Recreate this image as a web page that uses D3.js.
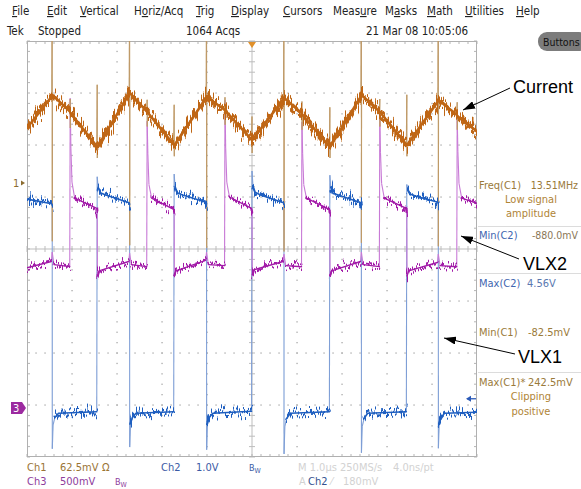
<!DOCTYPE html>
<html>
<head>
<meta charset="utf-8">
<script src="https://cdn.jsdelivr.net/npm/d3@7"></script>
<style>
  html, body { margin: 0; padding: 0; background: #fff; }
  svg { display: block; }
  .ui { font-family: "Liberation Sans Narrow", "Arial Narrow", "DejaVu Sans Condensed", sans-serif; }
  .big { font-family: "Liberation Sans", Arial, sans-serif; }
</style>
</head>
<body>
<svg id="scope" width="581" height="489"></svg>
<script>
// ---- acquisition record (time in µs) ----
// Ch1: inductor current probe, mV
const ch1Times = [0, 0.55, 0.56, 0.562, 0.565, 0.95, 0.96, 0.963, 0.967, 1.55, 1.56, 1.563, 1.567,
  2.27, 2.28, 2.282, 2.285, 2.66, 2.67, 2.673, 2.677, 3.26, 3.27, 3.273, 3.277,
  3.98, 3.99, 3.992, 3.995, 4.39, 4.40, 4.403, 4.407, 4.99, 5.00, 5.003, 5.007,
  5.70, 5.71, 5.712, 5.715, 6.10, 6.11, 6.113, 6.117, 6.72, 6.73, 6.733, 6.737,
  7.42, 7.43, 7.432, 7.435, 7.83, 7.84, 7.843, 7.847, 8.43, 8.44, 8.443, 8.447,
  9.13, 9.14, 9.142, 9.145, 9.55, 9.56, 9.563, 9.567, 10];
const ch1Values = [66, 104, 242.5, -70, 105.8, 86, 101, 66, 84, 44, 118, 30, 43.3,
  107, 242.5, -75, 108.2, 86, 100, 68, 85, 46, 94, 32, 45.7,
  102, 242.5, -78, 103.4, 88, 103, 70, 87, 52, 80, 36, 51.7,
  101, 242.5, -82.5, 102.2, 84, 98, 64, 82, 44, 91, 30, 43.3,
  104, 242.5, -72, 105.8, 86, 101, 68, 85, 46, 106, 32, 45.7,
  98, 242.5, -76, 99.8, 82, 97, 64, 80, 62];

// Ch2: VLX1 switch node, V
const ch2Times = [0, 0.55, 0.56, 0.562, 0.58, 0.62, 0.70, 1.55, 1.56, 1.58, 1.63, 1.75,
  2.27, 2.28, 2.282, 2.30, 2.34, 2.42, 3.26, 3.27, 3.29, 3.34, 3.46,
  3.98, 3.99, 3.992, 4.01, 4.05, 4.13, 4.99, 5.00, 5.02, 5.07, 5.19,
  5.70, 5.71, 5.712, 5.73, 5.77, 5.85, 6.72, 6.73, 6.75, 6.80, 6.92,
  7.42, 7.43, 7.432, 7.45, 7.49, 7.57, 8.43, 8.44, 8.46, 8.51, 8.63,
  9.13, 9.14, 9.142, 9.16, 9.20, 9.28, 10];
const ch2Values = [4.02, 3.93, 3.9, -0.78, -0.32, -0.18, -0.1, -0.07, 4.45, 4.25, 4.14, 4.1,
  3.95, 3.92, -0.75, -0.3, -0.18, -0.1, -0.07, 4.5, 4.26, 4.14, 4.1,
  3.96, 3.93, -0.8, -0.3, -0.18, -0.1, -0.06, 4.56, 4.28, 4.15, 4.1,
  3.95, 3.92, -0.88, -0.35, -0.2, -0.1, -0.07, 4.48, 4.25, 4.13, 4.1,
  3.95, 3.92, -0.86, -0.35, -0.2, -0.1, -0.07, 4.3, 4.2, 4.12, 4.08,
  3.96, 3.93, -0.77, -0.3, -0.18, -0.1, -0.08];

// Ch3: VLX2 switch node, V
const ch3Times = [0, 0.54, 0.56, 0.60, 0.95, 0.96, 0.975, 1.00, 1.06, 1.55, 1.56, 1.565, 1.60,
  2.26, 2.28, 2.32, 2.66, 2.67, 2.685, 2.71, 2.77, 3.26, 3.27, 3.275, 3.31,
  3.97, 3.99, 4.03, 4.39, 4.40, 4.415, 4.44, 4.50, 4.99, 5.00, 5.005, 5.04,
  5.69, 5.71, 5.75, 6.10, 6.11, 6.125, 6.15, 6.21, 6.72, 6.73, 6.735, 6.77,
  7.41, 7.43, 7.47, 7.83, 7.84, 7.855, 7.88, 7.94, 8.43, 8.44, 8.445, 8.48,
  9.12, 9.14, 9.18, 9.55, 9.56, 9.575, 9.60, 9.66, 10];
const ch3Values = [1.35, 1.41, 1.50, 1.38, 1.36, 2.98, 2.5, 2.17, 2.02, 1.92, 1.88, 1.27, 1.32,
  1.41, 1.49, 1.38, 1.36, 2.76, 2.45, 2.15, 2.02, 1.91, 1.88, 1.27, 1.32,
  1.42, 1.50, 1.38, 1.37, 2.96, 2.5, 2.17, 2.03, 1.92, 1.89, 1.28, 1.33,
  1.41, 1.48, 1.37, 1.36, 2.75, 2.45, 2.15, 2.02, 1.91, 1.88, 1.27, 1.32,
  1.41, 1.50, 1.38, 1.36, 2.78, 2.46, 2.16, 2.02, 1.92, 1.88, 1.27, 1.32,
  1.40, 1.48, 1.37, 1.36, 2.80, 2.47, 2.16, 2.02, 1.97];

// ---- vertical settings: scale per division and ground marker position (divisions from centre) ----
const channelScale = [62.5, 1.0, 0.5];
const channelOffset = [1.27, -3.06, -3.06];

// ---- screen text ----
const menuItems = ["File", "Edit", "Vertical", "Horiz/Acq", "Trig", "Display", "Cursors", "Measure", "Masks", "Math", "Utilities", "Help"];
const menuHotkey = [0, 0, 0, 1, 0, 0, 0, 4, 1, 0, 0, 0];
const statusItems = ["Tek", "Stopped", "1064 Acqs", "21 Mar 08 10:05:06"];
const measLabels = ["Freq(C1)", "Min(C2)", "Max(C2)", "Min(C1)", "Max(C1)*"];
const measValues = ["13.51MHz", "-880.0mV", "4.56V", "-82.5mV", "242.5mV"];

// ---- layout ----
const W = 581, H = 489;
const G = { left: 27, right: 477, top: 41, bottom: 457 };
const menuX = [12, 47, 80, 134, 196, 231, 283, 333, 385, 427, 465, 516];
const statusX = [7, 38, 186, 366];

const svg = d3.select("#scope");
const defs = svg.append("defs");

const x = d3.scaleLinear().domain([0, 10]).range([G.left, G.right]);
const div = d3.scaleLinear().domain([-4, 4]).range([G.bottom, G.top]);
const chY = channelScale.map((s, i) =>
  d3.scaleLinear().domain([(-4 - channelOffset[i]) * s, (4 - channelOffset[i]) * s]).range([G.bottom, G.top]));

// ---- graticule ----
const grat = svg.append("g");
const gridCol = "#a9a9a9";
const xMinor = d3.range(0, 10.001, 0.2);
const yMinor = d3.range(-4, 4.001, 0.2);
// dotted division lines
for (let i = 1; i < 10; i++) {
  if (i === 5) continue;
  grat.append("g").selectAll("rect").data(yMinor.slice(1, -1)).join("rect")
    .attr("x", x(i) - 0.6).attr("y", d => div(d) - 0.6).attr("width", 1.3).attr("height", 1.3).attr("fill", gridCol);
}
for (let j = -3; j <= 3; j++) {
  if (j === 0) continue;
  grat.append("g").selectAll("rect").data(xMinor.slice(1, -1)).join("rect")
    .attr("x", d => x(d) - 0.6).attr("y", div(j) - 0.6).attr("width", 1.3).attr("height", 1.3).attr("fill", gridCol);
}
// centre cross with minor ticks
grat.append("line").attr("x1", G.left).attr("x2", G.right).attr("y1", div(0)).attr("y2", div(0)).attr("stroke", "#bdbdbd");
grat.append("line").attr("y1", G.top).attr("y2", G.bottom).attr("x1", x(5)).attr("x2", x(5)).attr("stroke", "#bdbdbd");
grat.append("g").selectAll("line").data(xMinor).join("line")
  .attr("x1", d => x(d)).attr("x2", d => x(d)).attr("y1", div(0) - 3).attr("y2", div(0) + 3).attr("stroke", "#bdbdbd");
grat.append("g").selectAll("line").data(yMinor).join("line")
  .attr("y1", d => div(d)).attr("y2", d => div(d)).attr("x1", x(5) - 3).attr("x2", x(5) + 3).attr("stroke", "#bdbdbd");
// border ticks
grat.append("g").selectAll("line").data(xMinor).join("line")
  .attr("x1", d => x(d)).attr("x2", d => x(d)).attr("y1", G.top).attr("y2", G.top + 3).attr("stroke", "#b5b5b5");
grat.append("g").selectAll("line").data(xMinor).join("line")
  .attr("x1", d => x(d)).attr("x2", d => x(d)).attr("y1", G.bottom).attr("y2", G.bottom - 3).attr("stroke", "#b5b5b5");
grat.append("g").selectAll("line").data(yMinor).join("line")
  .attr("y1", d => div(d)).attr("y2", d => div(d)).attr("x1", G.left).attr("x2", G.left + 3).attr("stroke", "#b5b5b5");
grat.append("g").selectAll("line").data(yMinor).join("line")
  .attr("y1", d => div(d)).attr("y2", d => div(d)).attr("x1", G.right).attr("x2", G.right - 3).attr("stroke", "#b5b5b5");
grat.append("rect").attr("x", G.left + 0.5).attr("y", G.top + 0.5)
  .attr("width", G.right - G.left - 1).attr("height", G.bottom - G.top - 1)
  .attr("fill", "none").attr("stroke", "#b0b0b0");

// ---- trace rendering ----
defs.append("clipPath").attr("id", "screen").append("rect")
  .attr("x", G.left).attr("y", G.top).attr("width", G.right - G.left).attr("height", G.bottom - G.top);

function jitter(id, freq, scale, seed) {
  const f = defs.append("filter").attr("id", id).attr("filterUnits", "userSpaceOnUse")
    .attr("x", 0).attr("y", 0).attr("width", W).attr("height", H)
    .attr("color-interpolation-filters", "sRGB");
  f.append("feTurbulence").attr("type", "fractalNoise").attr("baseFrequency", `${freq} 0.04`)
    .attr("numOctaves", 2).attr("seed", seed).attr("result", "n");
  f.append("feColorMatrix").attr("in", "n").attr("type", "matrix")
    .attr("values", "0 0 0 0 0.5  0 1 0 0 0  0 0 0 0 0  0 0 0 0 1").attr("result", "m");
  f.append("feDisplacementMap").attr("in", "SourceGraphic").attr("in2", "m")
    .attr("scale", scale).attr("xChannelSelector", "R").attr("yChannelSelector", "G");
}
jitter("j1", 0.8, 34, 4);
jitter("j1b", 0.6, 28, 21);
jitter("j2", 0.8, 22, 9);
jitter("j3", 0.8, 19, 13);

// steep steps are drawn as thin edges, the rest as the sampled trace body
function splitTrace(times, values, ys) {
  const pts = times.map((t, i) => [x(t), ys(values[i])]);
  const edges = [], bodies = [];
  let run = [pts[0]];
  for (let i = 1; i < pts.length; i++) {
    const a = pts[i - 1], b = pts[i];
    const dx = Math.abs(b[0] - a[0]), dy = Math.abs(b[1] - a[1]);
    if (dy > 5 && dy > 4 * dx) {
      edges.push([a, b]);
      if (run.length > 1) bodies.push(run);
      run = [b];
    } else run.push(b);
  }
  if (run.length > 1) bodies.push(run);
  return { edges, bodies };
}

const traces = [
  { t: ch2Times, v: ch2Values, y: chY[1], body: "#1f5fc0", edge: "#7f9fd6", core: 1.6, w: 2.9, f: ["j2"] },
  { t: ch3Times, v: ch3Values, y: chY[2], body: "#a21aa8", edge: "#c87ad6", core: 1.4, w: 2.5, f: ["j3"] },
  { t: ch1Times, v: ch1Values, y: chY[0], body: "#bf6615", edge: "#bf9a68", core: 2.6, w: 3.5, f: ["j1", "j1b"] }
].map(c => Object.assign(c, splitTrace(c.t, c.v, c.y)));

const plot = svg.append("g").attr("clip-path", "url(#screen)");
const line = d3.line();
traces.forEach(c => {
  plot.append("g").selectAll("line").data(c.edges).join("line")
    .attr("x1", d => d[0][0]).attr("y1", d => d[0][1]).attr("x2", d => d[1][0]).attr("y2", d => d[1][1])
    .attr("stroke", c.edge).attr("stroke-width", 1.1);
});
traces.forEach(c => {
  const g = plot.append("g").attr("fill", "none").attr("stroke", c.body)
    .attr("stroke-linecap", "round").attr("stroke-linejoin", "round");
  g.append("g").attr("stroke-width", c.core).selectAll("path").data(c.bodies).join("path").attr("d", line);
  c.f.forEach(fid => g.append("g").attr("stroke-width", c.w).attr("filter", `url(#${fid})`)
    .selectAll("path").data(c.bodies).join("path").attr("d", line));
});

// ---- markers ----
const m1 = chY[0](0);
svg.append("text").attr("class", "ui").attr("x", 13).attr("y", m1 + 4).attr("font-size", 11).attr("fill", "#8c6c30").text("1");
svg.append("path").attr("d", `M21,${m1 - 2.5} L25,${m1} L21,${m1 + 2.5} Z`).attr("fill", "#8c6c30");
const m3 = chY[2](0);
svg.append("path").attr("d", `M11,${m3 - 6} H22 L26,${m3} L22,${m3 + 6} H11 Z`).attr("fill", "#9c2aa0");
svg.append("text").attr("class", "ui").attr("x", 13).attr("y", m3 + 4).attr("font-size", 11).attr("fill", "#fff").text("3");
// trigger position and level
svg.append("path").attr("d", `M${x(5) - 4},${G.top + 1} H${x(5) + 4} L${x(5)},${G.top + 7} Z`).attr("fill", "#e0902a");
const trig = chY[1](0.18);
svg.append("line").attr("x1", 467).attr("x2", 476).attr("y1", trig).attr("y2", trig).attr("stroke", "#2a5ab8").attr("stroke-width", 1.3);
svg.append("path").attr("d", `M466,${trig} L471,${trig - 3} L471,${trig + 3} Z`).attr("fill", "#2a5ab8");

// ---- menu bar ----
const menu = svg.append("g").attr("class", "ui").attr("font-size", 11.5).attr("fill", "#222");
menuItems.forEach((m, i) => {
  const t = menu.append("text").attr("x", menuX[i]).attr("y", 15);
  const k = menuHotkey[i];
  if (k > 0) t.append("tspan").text(m.slice(0, k));
  t.append("tspan").attr("text-decoration", "underline").text(m[k]);
  t.append("tspan").text(m.slice(k + 1));
});
const status = svg.append("g").attr("class", "ui").attr("font-size", 11.5).attr("fill", "#222");
statusItems.forEach((s, i) => status.append("text").attr("x", statusX[i]).attr("y", 35).text(s));
svg.append("rect").attr("x", 538).attr("y", 32).attr("width", 50).attr("height", 19).attr("rx", 9).attr("fill", "#7c7c7c");
svg.append("text").attr("class", "ui").attr("x", 543).attr("y", 46).attr("font-size", 10.5).attr("fill", "#111").text("Buttons");

// ---- measurement panel ----
const c1Col = "#9a7a3a", c2Col = "#3f66b0";
const panel = svg.append("g").attr("class", "ui").attr("font-size", 11);
[226.5, 273.5, 372.5].forEach(yy => panel.append("line").attr("x1", 478).attr("x2", 581)
  .attr("y1", yy).attr("y2", yy).attr("stroke", "#dcdcdc"));
const measLabelY = [189, 239, 287, 336, 386];
const measValueX = [578, 578, 527, 528, 528];
const measValueAnchor = ["end", "end", "start", "start", "start"];
const measColor = [c1Col, c2Col, c2Col, c1Col, c1Col];
const measValColor = [c1Col, "#8a7656", "#5b78b0", c1Col, c1Col];
measLabels.forEach((m, i) => {
  panel.append("text").attr("x", 479).attr("y", measLabelY[i]).attr("fill", measColor[i]).text(m);
  panel.append("text").attr("x", measValueX[i]).attr("y", measLabelY[i]).attr("text-anchor", measValueAnchor[i])
    .attr("font-size", i < 2 ? 10.5 : 11).attr("fill", measValColor[i]).text(measValues[i]);
});
[["Low signal", 203], ["amplitude", 217], ["Clipping", 400], ["positive", 415]].forEach(([s, yy]) =>
  panel.append("text").attr("x", 531).attr("y", yy).attr("text-anchor", "middle").attr("fill", "#b08436").text(s));

// ---- channel readouts ----
const foot = svg.append("g").attr("class", "ui").attr("font-size", 11);
const c1Txt = "#9a7434", c2Txt = "#3b5ba5", c3Txt = "#8e3c9c", dim = "#d2d2d2";
[["Ch1", 27, 471, c1Txt], ["62.5mV", 60, 471, c1Txt], ["Ω", 102, 471, c1Txt],
 ["Ch2", 161, 471, c2Txt], ["1.0V", 196, 471, c2Txt],
 ["M 1.0µs 250MS/s", 298, 471, dim], ["4.0ns/pt", 393, 471, dim],
 ["Ch3", 27, 485, c3Txt], ["500mV", 60, 485, c3Txt],
 ["A", 299, 485, dim], ["Ch2", 308, 485, "#34528f"], ["⁄", 331, 485, dim], ["180mV", 343, 485, dim]]
  .forEach(([s, xx, yy, c]) => foot.append("text").attr("x", xx).attr("y", yy).attr("fill", c).text(s));
[[249, 471, c2Txt], [115, 485, c3Txt]].forEach(([xx, yy, c]) => {
  const t = foot.append("text").attr("x", xx).attr("y", yy).attr("fill", c).attr("font-size", 9);
  t.append("tspan").text("B");
  t.append("tspan").attr("font-size", 7).attr("dy", 2).text("W");
});

// ---- annotations ----
defs.append("marker").attr("id", "head").attr("viewBox", "0 0 12 8").attr("refX", 12).attr("refY", 4)
  .attr("markerWidth", 12).attr("markerHeight", 8).attr("markerUnits", "userSpaceOnUse").attr("orient", "auto")
  .append("path").attr("d", "M0,0 L12,4 L0,8 Z").attr("fill", "#000");
const notes = [["Current", 513, 93, 510, 88, 463, 110], ["VLX2", 523, 270, 519, 259, 461, 236], ["VLX1", 518, 363, 515, 354, 444, 338]];
notes.forEach(([s, tx, ty, x1, y1, x2, y2]) => {
  svg.append("line").attr("x1", x1).attr("y1", y1).attr("x2", x2).attr("y2", y2)
    .attr("stroke", "#000").attr("stroke-width", 1).attr("marker-end", "url(#head)");
  svg.append("text").attr("class", "big").attr("x", tx).attr("y", ty).attr("font-size", 18).attr("fill", "#000").text(s);
});
</script>
</body>
</html>
